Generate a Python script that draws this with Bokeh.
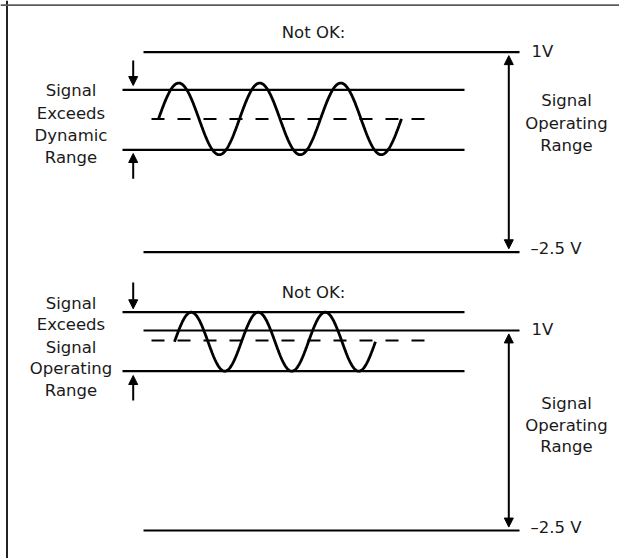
import numpy as np
from bokeh.plotting import figure
from bokeh.models import Range1d, Arrow, NormalHead, Span
from bokeh.core.properties import value
from bokeh.embed import file_html
from bokeh.resources import INLINE

# ---------------- data (volts on y, layout units on x) ----------------
RAIL_LEVELS = [1.0, -2.5]
RAIL_LABELS = ["1V", "\u20132.5 V"]
RAIL_X = [143, 519]

# top panel: signal exceeds the dynamic range
TOP_RANGE_LEVELS = [0.342, -0.708]
TOP_DASH_LEVEL = -0.167
TOP_WAVE_MID = -0.167
TOP_WAVE_AMP = 0.627
TOP_WAVE_X0 = 158
TOP_WAVE_PERIOD = 81
TOP_LEFT_TEXT = ["Signal", "Exceeds", "Dynamic", "Range"]
TOP_LEFT_TEXT_Y = [0.330, -0.073, -0.458, -0.843]
TOP_RIGHT_TEXT_Y = [0.155, -0.242, -0.632]
TOP_NOTOK_Y = 1.345
TOP_LEFT_ARROWS = [(0.855, 0.417), (-1.216, -0.773)]

# bottom panel: signal exceeds the signal operating range
BOT_RANGE_LEVELS = [1.32, 0.288]
BOT_DASH_LEVEL = 0.825
BOT_WAVE_MID = 0.804
BOT_WAVE_AMP = 0.516
BOT_WAVE_X0 = 174
BOT_WAVE_PERIOD = 67
BOT_LEFT_TEXT = ["Signal", "Exceeds", "Signal", "Operating", "Range"]
BOT_LEFT_TEXT_Y = [1.467, 1.099, 0.707, 0.329, -0.05]
BOT_RIGHT_TEXT_Y = [-0.286, -0.663, -1.026]
BOT_NOTOK_Y = 1.67
BOT_LEFT_ARROWS = [(1.84, 1.38), (-0.225, 0.2125)]

RIGHT_TEXT = ["Signal", "Operating", "Range"]
WAVE_CYCLES = 3
RANGE_X = [122, 464]
DASH_X = [151, 428]

FONT = value("DejaVu Sans")
FSIZE = "16.5px"
TXT = "#1a1a1a"

# two voltage scales sharing one canvas (one per panel)
TOP_YR = (-7.8603, 1.9048)
BOT_YR = (-2.990, 6.775)

p = figure(width=619, height=558, x_range=Range1d(0, 619), y_range=Range1d(*TOP_YR),
           output_backend="svg", toolbar_location=None, min_border=0,
           x_axis_type=None, y_axis_type=None, outline_line_color=None,
           background_fill_color="white", border_fill_color="white")
p.extra_y_ranges = {"bot": Range1d(*BOT_YR)}
p.grid.visible = False

# page frame
p.add_layout(Span(location=6.5, dimension="height", line_color="#222222", line_width=2))
p.add_layout(Span(location=1.8225, dimension="width", line_color="#5a5a5a",
                  line_width=1.8))


def head():
    return NormalHead(size=9, fill_color="black", line_color="black")


def draw_panel(rn, range_levels, dash_level, wave_mid, wave_amp, x0, period,
               left_text, left_y, right_y, notok_y, left_arrows):
    for lv in RAIL_LEVELS:
        p.line(RAIL_X, [lv, lv], line_color="black", line_width=2.2, y_range_name=rn)
    for lv in range_levels:
        p.line(RANGE_X, [lv, lv], line_color="black", line_width=2.2, y_range_name=rn)
    p.line(DASH_X, [dash_level, dash_level], line_color="black", line_width=2,
           line_dash="13 13", y_range_name=rn)
    xs = np.linspace(x0, x0 + WAVE_CYCLES * period, 400)
    ys = wave_mid + wave_amp * np.sin(2 * np.pi * (xs - x0) / period)
    p.line(xs, ys, line_color="black", line_width=2.8, y_range_name=rn)
    p.text(x=[531, 530], y=[RAIL_LEVELS[0] + 0.01, RAIL_LEVELS[1] + 0.06], text=RAIL_LABELS,
           text_font=FONT, text_font_size=FSIZE, text_align="left",
           text_baseline="middle", text_color=TXT, y_range_name=rn)
    p.add_layout(Arrow(start=head(), end=head(),
                       x_start=508.3, y_start=RAIL_LEVELS[1] + 0.06,
                       x_end=508.3, y_end=RAIL_LEVELS[0] - 0.06,
                       line_width=2, line_color="black", y_range_name=rn))
    p.text(x=[566] * 3, y=right_y, text=RIGHT_TEXT, text_font=FONT, text_font_size=FSIZE,
           text_align="center", text_baseline="middle", text_color=TXT, y_range_name=rn)
    p.text(x=[70.5] * len(left_text), y=left_y, text=left_text, text_font=FONT,
           text_font_size=FSIZE, text_align="center", text_baseline="middle",
           text_color=TXT, y_range_name=rn)
    for (ys0, ye) in left_arrows:
        p.add_layout(Arrow(end=head(), x_start=132.7, y_start=ys0, x_end=132.7, y_end=ye,
                           line_width=2, line_color="black", y_range_name=rn))
    p.text(x=[313], y=[notok_y], text=["Not OK:"], text_font=FONT, text_font_size=FSIZE,
           text_align="center", text_baseline="middle", text_color=TXT, y_range_name=rn)


draw_panel("default", TOP_RANGE_LEVELS, TOP_DASH_LEVEL, TOP_WAVE_MID, TOP_WAVE_AMP,
           TOP_WAVE_X0, TOP_WAVE_PERIOD, TOP_LEFT_TEXT, TOP_LEFT_TEXT_Y, TOP_RIGHT_TEXT_Y,
           TOP_NOTOK_Y, TOP_LEFT_ARROWS)
draw_panel("bot", BOT_RANGE_LEVELS, BOT_DASH_LEVEL, BOT_WAVE_MID, BOT_WAVE_AMP,
           BOT_WAVE_X0, BOT_WAVE_PERIOD, BOT_LEFT_TEXT, BOT_LEFT_TEXT_Y, BOT_RIGHT_TEXT_Y,
           BOT_NOTOK_Y, BOT_LEFT_ARROWS)

open("out.html", "w").write(file_html(p, INLINE))
